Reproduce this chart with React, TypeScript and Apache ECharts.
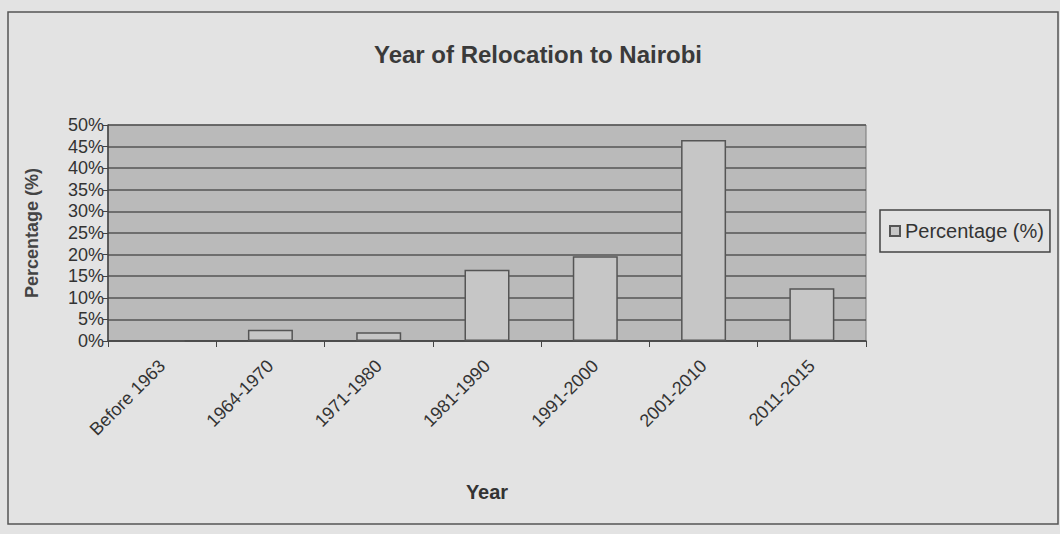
import React, { useEffect, useRef } from "react";
import * as echarts from "echarts";

const categories = ["Before 1963", "1964-1970", "1971-1980", "1981-1990", "1991-2000", "2001-2010", "2011-2015"];
const percentages = [0, 2.6, 2.0, 16.5, 19.6, 46.5, 12.2];
const seriesName = "Percentage (%)";
const titleText = "Year of Relocation to Nairobi";
const yAxisName = "Percentage (%)";
const xAxisName = "Year";

export default function App() {
  const ref = useRef<HTMLDivElement>(null);
  useEffect(() => {
    if (!ref.current) return;
    const chart = echarts.init(ref.current, null, { renderer: "svg" });
    const font = "Liberation Sans, Arial, sans-serif";
    chart.setOption({
      animation: false,
      backgroundColor: "#e3e3e3",
      textStyle: { fontFamily: font },
      title: {
        text: titleText,
        left: 533,
        top: 37,
        textAlign: "center",
        textStyle: { fontSize: 24, fontWeight: "bold", color: "#3a3a3a", fontFamily: font },
      },
      graphic: [
        {
          type: "rect",
          shape: { x: 8, y: 12, width: 1050, height: 512 },
          style: { fill: "none", stroke: "#555", lineWidth: 1.5 },
          silent: true,
          z: -1,
        },
      ],
      legend: {
        left: 880,
        top: 210,
        orient: "vertical",
        data: [seriesName],
        icon: "rect",
        itemWidth: 10,
        itemHeight: 10,
        itemGap: 0,
        padding: [11, 6, 11, 9],
        borderColor: "#444",
        borderWidth: 1.5,
        textStyle: { fontSize: 20, color: "#333", fontFamily: font },
      },
      grid: {
        left: 108,
        right: 194,
        top: 125,
        bottom: 193,
        show: true,
        backgroundColor: "#bababa",
        borderColor: "#777",
        borderWidth: 1,
        containLabel: false,
      },
      xAxis: {
        type: "category",
        data: categories,
        boundaryGap: true,
        name: xAxisName,
        nameLocation: "middle",
        nameGap: 141,
        nameTextStyle: { fontSize: 20, fontWeight: "bold", color: "#333" },
        axisLine: { lineStyle: { color: "#444", width: 1.5 } },
        axisTick: { show: true, alignWithLabel: false, length: 6, lineStyle: { color: "#444" } },
        axisLabel: { rotate: 45, fontSize: 18, color: "#333", margin: 22 },
      },
      yAxis: {
        type: "value",
        min: 0,
        max: 50,
        interval: 5,
        name: yAxisName,
        nameLocation: "middle",
        nameGap: 67,
        nameTextStyle: { fontSize: 18, fontWeight: "bold", color: "#444" },
        axisLine: { show: true, lineStyle: { color: "#444", width: 1.5 } },
        axisTick: { show: true, length: 5, lineStyle: { color: "#444" } },
        axisLabel: { formatter: "{value}%", fontSize: 18, color: "#333", margin: 4 },
        splitLine: { show: true, lineStyle: { color: "#555", width: 1.5 } },
      },
      series: [
        {
          name: seriesName,
          type: "bar",
          data: percentages,
          barWidth: 45,
          itemStyle: { color: "#c6c6c6", borderColor: "#555", borderWidth: 1.5 },
        },
      ],
    });
    return () => chart.dispose();
  }, []);
  return (
    <div
      ref={ref}
      style={{ position: "fixed", left: 0, top: 0, width: 1060, height: 534 }}
    />
  );
}
